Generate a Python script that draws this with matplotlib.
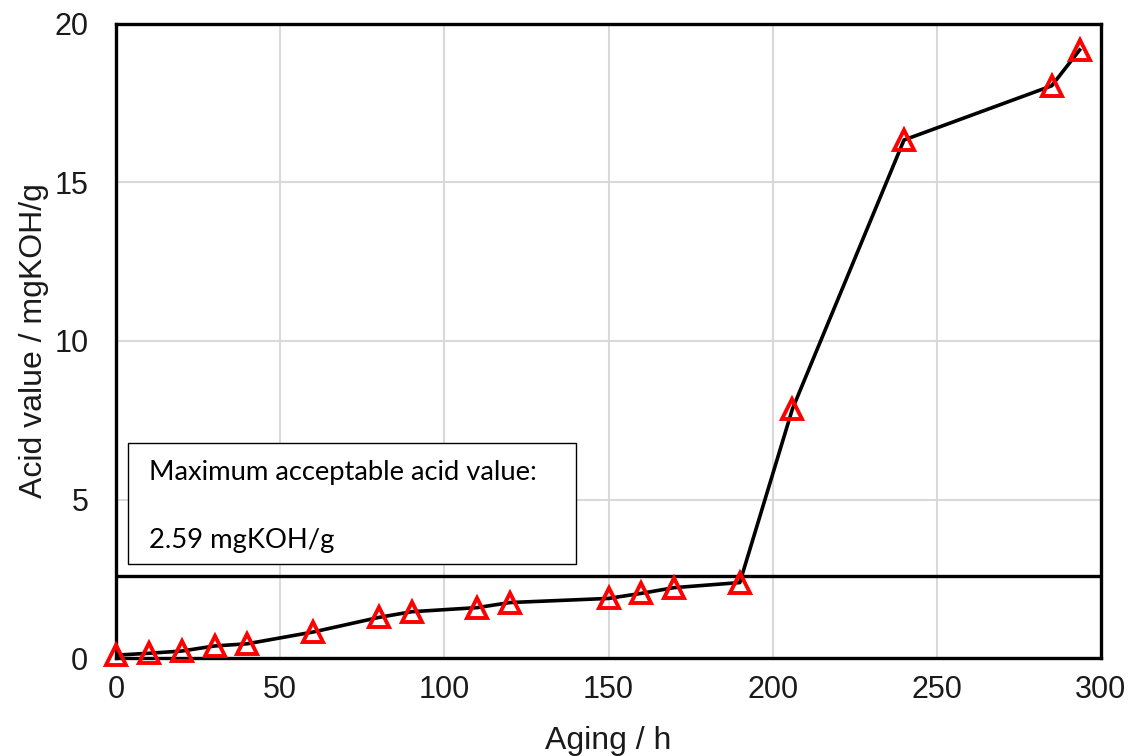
import matplotlib
matplotlib.use("Agg")
import matplotlib.pyplot as plt
from matplotlib.patches import Rectangle

# Acid value of the oil sample over aging time
aging_h = [0, 10, 20, 30, 40, 60, 80, 90, 110, 120, 150, 160, 170, 190,
           206, 240, 285, 293.5]
acid_value = [0.09, 0.15, 0.22, 0.38, 0.45, 0.82, 1.28, 1.46, 1.59, 1.75,
              1.88, 2.04, 2.22, 2.38, 7.85, 16.34, 18.05, 19.18]

acid_limit = 2.59
x_ticks = [0, 50, 100, 150, 200, 250, 300]
y_ticks = [0, 5, 10, 15, 20]

plt.rcParams['font.family'] = ['Liberation Sans', 'DejaVu Sans']

fig = plt.figure(figsize=(11.3, 7.56), dpi=100)
ax = fig.add_axes([0.1027, 0.1296, 0.8716, 0.8387])

ax.set_xlim(0, 300)
ax.set_ylim(0, 20)
ax.set_xticks(x_ticks)
ax.set_yticks(y_ticks)
ax.tick_params(length=0, labelsize=22, colors='#1a1a1a')
ax.tick_params(axis='x', pad=12)
ax.tick_params(axis='y', pad=20)
ax.grid(True, color='#d9d9d9', linewidth=1.5)
ax.set_axisbelow(True)
for sp in ax.spines.values():
    sp.set_linewidth(2.4)
    sp.set_color('black')

# acceptance limit
ax.axhline(acid_limit, color='black', linewidth=2.4, zorder=3)

ax.plot(aging_h, acid_value, color='black', linewidth=2.6, zorder=4)
ax.plot(aging_h, acid_value, linestyle='none', marker='^', markersize=14,
        markerfacecolor='none', markeredgecolor='#ff0000',
        markeredgewidth=2.8, zorder=5, clip_on=False)

# annotation box
box = Rectangle((3.7, 2.97), 136.3, 3.81, facecolor='white',
                edgecolor='black', linewidth=1.0, zorder=6)
ax.add_patch(box)
ax.text(10.0, 5.84, 'Maximum acceptable acid value:', fontsize=19.7,
        family=['Lato', 'DejaVu Sans'], va='center', ha='left', zorder=7)
ax.text(10.0, 3.72, f'{acid_limit} mgKOH/g', fontsize=19.7,
        family=['Lato', 'DejaVu Sans'], va='center', ha='left', zorder=7)

ax.set_xlabel('Aging / h', fontsize=23, labelpad=15, color='#1a1a1a')
ax.set_ylabel('Acid value / mgKOH/g', fontsize=23, labelpad=4, color='#1a1a1a')

fig.savefig('out.png', dpi=100)
